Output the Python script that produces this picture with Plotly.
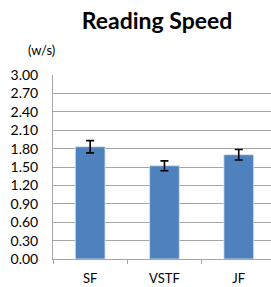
import plotly.graph_objects as go

categories = ["SF", "VSTF", "JF"]
speed = [1.83, 1.52, 1.70]
err = [0.10, 0.08, 0.085]
y_ticks = [0.0, 0.3, 0.6, 0.9, 1.2, 1.5, 1.8, 2.1, 2.4, 2.7, 3.0]

W, H = 271, 287
ml, mr, mt, mb = 53, 0, 75, 28
font = "Lato"

fig = go.Figure()
fig.add_trace(go.Bar(
    x=categories, y=speed, width=0.4,
    marker=dict(color="#4F81BD", line=dict(color="#D9E3F0", width=0.8)),
    error_y=dict(type="data", array=err, visible=True, color="#000000",
                 thickness=1.6, width=4),
))

fig.update_layout(
    width=W, height=H,
    margin=dict(l=ml, r=mr, t=mt, b=mb, pad=0, autoexpand=False),
    paper_bgcolor="white", plot_bgcolor="white",
    showlegend=False,
    font=dict(family=font, color="#000000"),
    title=dict(text="<b>Reading Speed</b>", x=157 / W, xanchor="center",
               y=1 - 21 / H, yanchor="middle", yref="container",
               font=dict(family=font, size=23, color="#000000")),
    xaxis=dict(
        range=[-0.5, (W - ml) / 74.3 - 0.5],
        showgrid=False, showline=True, linecolor="#A6A6A6", linewidth=1,
        ticks="outside", tickson="boundaries", ticklen=4, tickcolor="#A6A6A6",
        tickfont=dict(family=font, size=13, color="#000000"),
        ticklabelstandoff=7, automargin=False,
        zeroline=False, fixedrange=True,
    ),
    yaxis=dict(
        range=[0, 3.0], tickvals=y_ticks,
        ticktext=[f"{v:.2f}" for v in y_ticks],
        showgrid=True, gridcolor="#A6A6A6", gridwidth=1,
        showline=True, linecolor="#A6A6A6", linewidth=1,
        ticks="", ticklabelstandoff=11, automargin=False,
        tickfont=dict(family=font, size=14, color="#000000"),
        zeroline=False, fixedrange=True,
    ),
    annotations=[dict(text="(w/s)", xref="paper", yref="paper",
                      x=(41.5 - ml) / (W - ml - mr), y=1 + 25 / (H - mt - mb),
                      xanchor="center", yanchor="middle", showarrow=False,
                      font=dict(family=font, size=13, color="#000000"))],
)

fig.write_html("out.html", config={"displayModeBar": False},
               post_script="document.body.style.margin='0';document.body.style.overflow='hidden';")
